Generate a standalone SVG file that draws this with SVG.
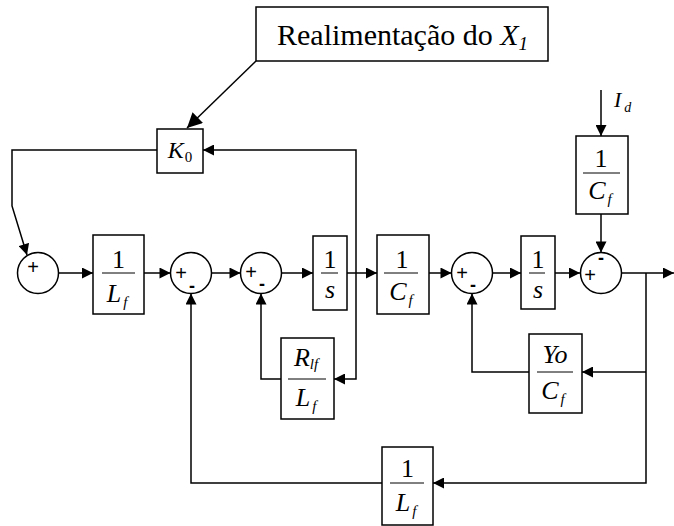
<svg xmlns="http://www.w3.org/2000/svg" width="674" height="526" viewBox="0 0 674 526">
<style>
.blk{fill:#fff;stroke:#000;stroke-width:1.5}
.sum{fill:#fff;stroke:#000;stroke-width:1.5}
.wire{fill:none;stroke:#000;stroke-width:1.5}
.fl{stroke:#000;stroke-width:1}
.m{font-family:"Liberation Serif","Times New Roman",serif;font-size:26px;text-anchor:middle;fill:#000}
.i{font-style:italic}
.sb{font-size:15px;font-style:italic}
.sg{font-family:"Liberation Sans",Arial,sans-serif;font-size:20px;text-anchor:middle;fill:#000}
.mn{font-family:"Liberation Sans",Arial,sans-serif;font-size:18px;font-weight:bold;text-anchor:middle;fill:#000}
.lbl{font-family:"Liberation Serif","Times New Roman",serif;font-size:30px;fill:#000}
</style>
<defs>
<marker id="ah" viewBox="0 0 10 10" refX="10" refY="5" markerWidth="12" markerHeight="11" markerUnits="userSpaceOnUse" orient="auto">
<path d="M0,0 L10,5 L0,10 z" fill="#000"/>
</marker>
<marker id="ahb" viewBox="0 0 10 10" refX="10" refY="5" markerWidth="19" markerHeight="15" markerUnits="userSpaceOnUse" orient="auto">
<path d="M0,0 L10,5 L0,10 z" fill="#000"/>
</marker>
</defs>

<g id="connectors">
<path class="wire" d="M157,150 H12 V206 L27,255" marker-end="url(#ah)"/>
<path class="wire" d="M59,273 H93" marker-end="url(#ah)"/>
<path class="wire" d="M144,273 H170.5" marker-end="url(#ah)"/>
<path class="wire" d="M211.5,273 H240.5" marker-end="url(#ah)"/>
<path class="wire" d="M281.5,273 H313" marker-end="url(#ah)"/>
<path class="wire" d="M347,273 H377" marker-end="url(#ah)"/>
<path class="wire" d="M356,273 V150 H203" marker-end="url(#ah)"/>
<path class="wire" d="M356,273 V379 H334" marker-end="url(#ah)"/>
<path class="wire" d="M281,379 H261 V293.5" marker-end="url(#ah)"/>
<path class="wire" d="M429,273 H451.5" marker-end="url(#ah)"/>
<path class="wire" d="M492.5,273 H521" marker-end="url(#ah)"/>
<path class="wire" d="M555,273 H580" marker-end="url(#ah)"/>
<path class="wire" d="M601,90 V136" marker-end="url(#ah)"/>
<path class="wire" d="M601,214 V252.5" marker-end="url(#ah)"/>
<path class="wire" d="M621.5,273 H674" marker-end="url(#ah)"/>
<path class="wire" d="M646,273 V483 H433" marker-end="url(#ah)"/>
<path class="wire" d="M646,372 H582" marker-end="url(#ah)"/>
<path class="wire" d="M529,372 H472 V293.5" marker-end="url(#ah)"/>
<path class="wire" d="M382,483 H191 V293.5" marker-end="url(#ah)"/>
<path class="wire" d="M256,61 L187,128" marker-end="url(#ahb)"/>
</g>

<g id="label">
<rect class="blk" x="256" y="7" width="292" height="54"/>
<text class="lbl" x="277" y="45">Realimentação do <tspan font-style="italic">X</tspan><tspan font-style="italic" font-size="19px" dy="5">1</tspan></text>
</g>

<g id="k0">
<rect class="blk" x="157" y="129" width="46" height="44"/>
<text class="m" x="180" y="158" style="font-size:24px"><tspan class="i">K</tspan><tspan font-size="15px" dy="4" dx="1">0</tspan></text>
</g>

<g id="sum1">
<circle class="sum" cx="38" cy="273" r="20.5"/>
<text class="sg" x="33" y="274">+</text>
</g>

<g id="lf1">
<rect class="blk" x="93" y="235" width="51" height="79"/>
<line class="fl" x1="102" y1="273" x2="135" y2="273"/>
<text class="m" x="118.5" y="268">1</text>
<text class="m" x="117" y="302"><tspan class="i">L</tspan><tspan class="sb" dy="5" dx="2">f</tspan></text>
</g>

<g id="sum2">
<circle class="sum" cx="191" cy="273" r="20.5"/>
<text class="sg" x="181" y="280">+</text>
<text class="mn" x="192" y="292">-</text>
</g>

<g id="sum3">
<circle class="sum" cx="261" cy="273" r="20.5"/>
<text class="sg" x="251" y="279">+</text>
<text class="mn" x="262" y="290">-</text>
</g>

<g id="int1">
<rect class="blk" x="313" y="236" width="34" height="74"/>
<line class="fl" x1="321" y1="273" x2="338" y2="273"/>
<text class="m" x="330" y="268">1</text>
<text class="m i" x="330" y="298">s</text>
</g>

<g id="rlf">
<rect class="blk" x="281" y="338" width="53" height="81"/>
<line class="fl" x1="288" y1="379" x2="326" y2="379"/>
<text class="m" x="306" y="366"><tspan class="i">R</tspan><tspan class="sb" dy="3">lf</tspan></text>
<text class="m" x="306" y="406"><tspan class="i">L</tspan><tspan class="sb" dy="5" dx="2">f</tspan></text>
</g>

<g id="cf1">
<rect class="blk" x="377" y="235" width="52" height="79"/>
<line class="fl" x1="384" y1="273" x2="418" y2="273"/>
<text class="m" x="402" y="268">1</text>
<text class="m" x="401" y="300"><tspan class="i">C</tspan><tspan class="sb" dy="5" dx="2">f</tspan></text>
</g>

<g id="sum4">
<circle class="sum" cx="472" cy="273" r="20.5"/>
<text class="sg" x="462" y="280">+</text>
<text class="mn" x="473" y="291">-</text>
</g>

<g id="int2">
<rect class="blk" x="521" y="236" width="34" height="73"/>
<line class="fl" x1="529" y1="273" x2="545" y2="273"/>
<text class="m" x="538" y="268">1</text>
<text class="m i" x="538" y="298">s</text>
</g>

<g id="yocf">
<rect class="blk" x="529" y="334" width="53" height="79"/>
<line class="fl" x1="537" y1="372" x2="573" y2="372"/>
<text class="m i" x="555" y="363">Yo</text>
<text class="m" x="553" y="399"><tspan class="i">C</tspan><tspan class="sb" dy="5" dx="2">f</tspan></text>
</g>

<g id="cf2">
<rect class="blk" x="576" y="136" width="52" height="78"/>
<line class="fl" x1="583" y1="173" x2="620" y2="173"/>
<text class="m" x="601" y="167">1</text>
<text class="m" x="600" y="199"><tspan class="i">C</tspan><tspan class="sb" dy="5" dx="2">f</tspan></text>
</g>

<g id="id">
<text class="m i" x="614" y="107" style="font-size:22px;text-anchor:start">I<tspan font-size="14px" dy="5" dx="3">d</tspan></text>
</g>

<g id="sum5">
<circle class="sum" cx="601" cy="273" r="20.5"/>
<text class="mn" x="601" y="264">-</text>
<text class="sg" x="590" y="282">+</text>
</g>

<g id="lf2">
<rect class="blk" x="382" y="447" width="51" height="78"/>
<line class="fl" x1="390" y1="483" x2="424" y2="483"/>
<text class="m" x="407.5" y="477">1</text>
<text class="m" x="406" y="511"><tspan class="i">L</tspan><tspan class="sb" dy="5" dx="2">f</tspan></text>
</g>
</svg>
